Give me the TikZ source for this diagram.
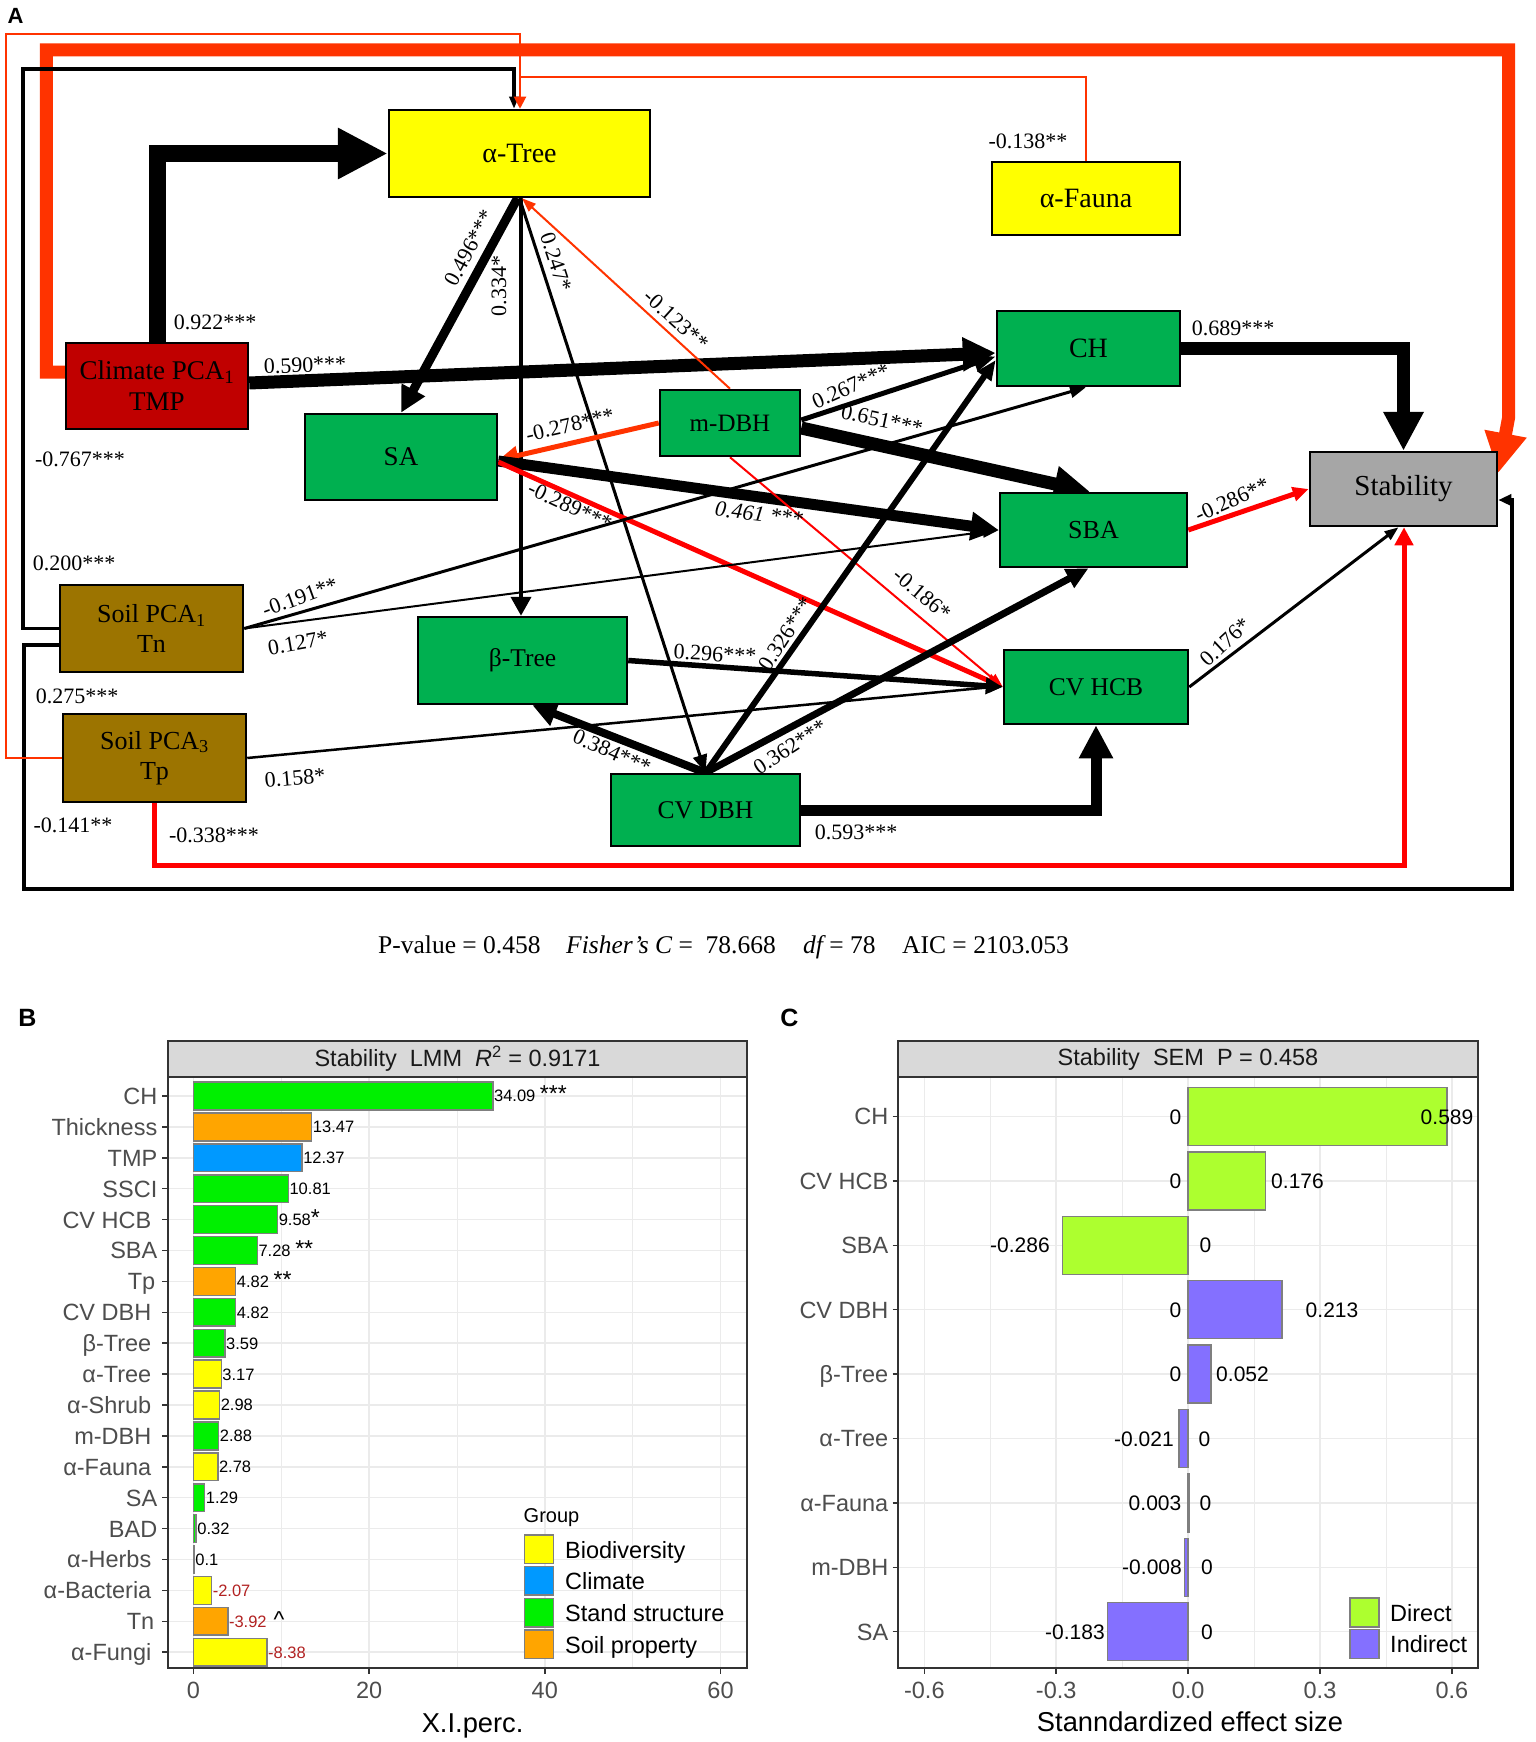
\documentclass[tikz,border=0pt]{standalone}
\usepackage{fontspec}
\setmainfont{Liberation Serif}
\newfontfamily\arialf{Liberation Sans}
\usetikzlibrary{arrows.meta}
\pgfdeclarelayer{background}
\pgfsetlayers{background,main}
\newcommand\setfs[2]{\fontsize{#1}{#2}\selectfont}
\newcommand\bigst[1]{{\setfs{23}{23}#1}}
\definecolor{semyellow}{HTML}{FFFF00}
\definecolor{semgreen}{HTML}{00B050}
\definecolor{semdred}{HTML}{C00000}
\definecolor{sembrown}{HTML}{9C7400}
\definecolor{semgray}{HTML}{A6A6A6}
\definecolor{semorange}{HTML}{FF3300}
\definecolor{semred}{HTML}{FF0000}
\definecolor{gB}{HTML}{00F000}
\definecolor{oB}{HTML}{FFA500}
\definecolor{bB}{HTML}{0099FF}
\definecolor{yB}{HTML}{FFFF00}
\definecolor{gC}{HTML}{ADFF2F}
\definecolor{pC}{HTML}{8470FF}
\definecolor{gridc}{HTML}{EBEBEB}
\definecolor{gtwenty}{HTML}{333333}
\definecolor{gthirty}{HTML}{4D4D4D}
\definecolor{gfifty}{HTML}{7F7F7F}
\definecolor{stripc}{HTML}{D9D9D9}
\definecolor{redlab}{HTML}{B22222}
\begin{document}
\begin{tikzpicture}[x=1pt,y=-1pt,
  semnode/.style={draw=black, line width=2.5pt, inner sep=0pt, align=center},
  elbl/.style={font=\setfs{22}{24}, inner sep=0pt},
  arr/.style 2 args={-{Triangle[length=#1,width=#2]}},
  tickl/.style={font=\arialf\setfs{23.5}{26}, text=gthirty, inner sep=0pt},
  vall/.style={font=\arialf\setfs{16.5}{18}, inner sep=0pt, anchor=base west},
  valc/.style={font=\arialf\setfs{21}{23}, inner sep=0pt, anchor=base},
  gmaj/.style={draw=gridc, line width=1.5pt},
  gmin/.style={draw=gridc, line width=0.8pt},
  axl/.style={draw=gtwenty, line width=1.5pt}]
\useasboundingbox (0,0) rectangle (1535,1742);

% ---------------- Panel A nodes ----------------
\node[font=\arialf\bfseries\setfs{22}{22}, inner sep=0pt] (labA) at (15.5,16) {A};

\node[semnode, fill=semyellow, minimum width=261pt, minimum height=87pt, font=\setfs{28}{30}] (atree) at (519.5,153.5) {α-Tree};
\node[semnode, fill=semyellow, minimum width=188pt, minimum height=73pt, font=\setfs{28}{30}] (afauna) at (1086,198.5) {α-Fauna};
\node[semnode, fill=semdred, minimum width=182pt, minimum height=86pt, font=\setfs{27}{31}] (climate) at (157,386) {Climate PCA\textsubscript{1}\\TMP};
\node[semnode, fill=semgreen, minimum width=183pt, minimum height=75pt, font=\setfs{28}{30}] (ch) at (1088.5,348.5) {CH};
\node[semnode, fill=semgreen, minimum width=140pt, minimum height=66pt, font=\setfs{25}{27}] (mdbh) at (730,423) {m-DBH};
\node[semnode, fill=semgreen, minimum width=192pt, minimum height=86pt, font=\setfs{27}{29}] (sa) at (401,457) {SA};
\node[semnode, fill=semgreen, minimum width=187pt, minimum height=74pt, font=\setfs{26}{28}] (sba) at (1093.5,530) {SBA};
\node[semnode, fill=semgray, minimum width=187pt, minimum height=74pt, font=\setfs{29}{31}] (stab) at (1403.5,489) {Stability};
\node[semnode, fill=sembrown, minimum width=183pt, minimum height=87pt, font=\setfs{26}{30}] (soil1) at (151.5,628.5) {Soil PCA\textsubscript{1}\\Tn};
\node[semnode, fill=semgreen, minimum width=209pt, minimum height=87pt, font=\setfs{25.5}{28}] (btree) at (522.5,660.5) {β-Tree};
\node[semnode, fill=semgreen, minimum width=184pt, minimum height=74pt, font=\setfs{25.5}{28}] (cvhcb) at (1096,687) {CV HCB};
\node[semnode, fill=sembrown, minimum width=183pt, minimum height=88pt, font=\setfs{26}{30}] (soil3) at (154.5,758) {Soil PCA\textsubscript{3}\\Tp};
\node[semnode, fill=semgreen, minimum width=189pt, minimum height=72pt, font=\setfs{25.5}{28}] (cvdbh) at (705.5,810) {CV DBH};

% ---------------- Panel A connectors ----------------
\begin{pgfonlayer}{background}
\fill[white] (0,0) rectangle (1535,1742);
% long loops
\draw[semorange, line width=13pt, arr={40pt}{40pt}] ([yshift=14pt]climate.west) -- ++(-18.5,0) |- (1508.5,50) -- (1508.5,418) -- ([yshift=16pt]stab.east);
\draw[black, line width=3.5pt, arr={12pt}{9pt}] (soil1.west) -| (23,69) -| ([xshift=-5.5pt]atree.north);
\draw[black, line width=4pt, arr={13pt}{11pt}] ([yshift=-16.5pt]soil1.west) -| (24,889) -| (1511.5,500) -- ([yshift=-11pt]stab.east);
\draw[semorange, line width=2pt, arr={12pt}{12pt}] (soil3.west) -| (6,34) -| ([xshift=0.5pt]atree.north);
\draw[semorange, line width=2pt] (afauna.north) |- (520,77);
\draw[semred, line width=5pt, arr={18pt}{18pt}] (soil3.south) |- (1404,865) -- ([xshift=0.5pt]stab.south);
% direct paths
\draw[black, line width=17pt, arr={50pt}{48pt}] (climate.north) |- (atree.west);
\draw[black, line width=13pt, arr={33pt}{32pt}] ([yshift=3pt]climate.east) -- ([yshift=-4.5pt]ch.west);
\draw[black, line width=9pt, arr={26pt}{25pt}] ([xshift=-2pt]atree.south) -- (sa.north);
\draw[black, line width=4pt, arr={19pt}{20pt}] ([xshift=1.5pt]atree.south) -- ([xshift=-1.5pt]btree.north);
\draw[black, line width=3pt, arr={18pt}{14pt}] (atree.south) -- (cvdbh.north);
\draw[semorange, line width=2pt, arr={14pt}{10pt}] (mdbh.north) -- ([xshift=2.5pt]atree.south);
\draw[semorange, line width=5pt, arr={20pt}{18pt}] (mdbh.west) -- ([yshift=-3pt]sa.east);
\draw[black, line width=5pt, arr={22pt}{16pt}] ([yshift=3pt]mdbh.east) -- ([yshift=-8pt]ch.west);
\draw[black, line width=13pt, arr={36pt}{34pt}] ([yshift=-5pt]mdbh.east) -- ([xshift=-3.5pt]sba.north);
\draw[black, line width=11pt, arr={28pt}{27pt}] ([yshift=-4pt]sa.east) -- (sba.west);
\draw[semred, line width=5pt, arr={16pt}{13pt}] ([yshift=-5pt]sa.east) -- (cvhcb.west);
\draw[semred, line width=2pt, arr={14pt}{10pt}] (mdbh.south) -- (cvhcb.west);
\draw[black, line width=3pt, arr={16pt}{12pt}] (soil1.east) -- ([xshift=-2.5pt]ch.south);
\draw[black, line width=2pt, arr={16pt}{11pt}] (soil1.east) -- (sba.west);
\draw[black, line width=5.5pt, arr={17pt}{16pt}] (btree.east) -- (cvhcb.west);
\draw[black, line width=2.5pt, arr={14pt}{10pt}] (soil3.east) -- ([yshift=1pt]cvhcb.west);
\draw[black, line width=8pt, arr={24pt}{24pt}] (cvdbh.north) -- ([xshift=10pt]btree.south);
\draw[black, line width=6pt, arr={20pt}{16pt}] (cvdbh.north) -- ([yshift=-11.5pt]ch.west);
\draw[black, line width=7pt, arr={22pt}{20pt}] (cvdbh.north) -- ([xshift=-5pt]sba.south);
\draw[black, line width=11pt, arr={33pt}{32pt}] (cvdbh.east) -| (cvhcb.south);
\draw[black, line width=13pt, arr={39pt}{38pt}] (ch.east) -| (stab.north);
\draw[semred, line width=5pt, arr={16pt}{14pt}] (sba.east) -- (stab.west);
\draw[black, line width=3pt, arr={14pt}{10pt}] (cvhcb.east) -- ([xshift=-5pt]stab.south);
\end{pgfonlayer}

% ---------------- Panel A labels ----------------
\node[elbl] (l1) at (215,322) {0.922***};
\node[elbl, rotate=2] (l2) at (305,365) {0.590***};
\node[elbl, rotate=62] (l3) at (469,248) {0.496***};
\node[elbl, rotate=90] (l4) at (499,286) {0.334*};
\node[elbl, rotate=-72] (l5) at (556,262) {0.247*};
\node[elbl, rotate=-42] (l6) at (676,320) {-0.123**};
\node[elbl, rotate=13] (l7) at (570,425) {-0.278***};
\node[elbl, rotate=24] (l8) at (851,386) {0.267***};
\node[elbl, rotate=-12] (l9) at (882,420) {0.651***};
\node[elbl, rotate=-7, font=\setfs{22}{24}\itshape] (l10) at (759,514) {0.461 ***};
\node[elbl, rotate=-25] (l11) at (570,506) {-0.289***};
\node[elbl, rotate=-40] (l12) at (922,594) {-0.186*};
\node[elbl, rotate=20] (l13) at (300,597) {-0.191**};
\node[elbl, rotate=10] (l14) at (298,643) {0.127*};
\node[elbl, rotate=-3] (l15) at (715,654) {0.296***};
\node[elbl, rotate=5] (l16) at (295,778) {0.158*};
\node[elbl, rotate=-24] (l17) at (612,752) {0.384***};
\node[elbl, rotate=57] (l18) at (786,634) {0.326***};
\node[elbl, rotate=33] (l19) at (790,747) {0.362***};
\node[elbl] (l20) at (856,832) {0.593***};
\node[elbl] (l21) at (1233,328) {0.689***};
\node[elbl, rotate=24] (l22) at (1232,500) {-0.286**};
\node[elbl, rotate=43] (l23) at (1225,642) {0.176*};
\node[elbl] (l24) at (1028,141) {-0.138**};
\node[elbl] (l25) at (74,563) {0.200***};
\node[elbl] (l26) at (80,459) {-0.767***};
\node[elbl] (l27) at (77,696) {0.275***};
\node[elbl] (l28) at (73,825) {-0.141**};
\node[elbl] (l29) at (214,835) {-0.338***};

% fit statistics
\node[anchor=base west, inner sep=0pt, font=\setfs{25.5}{27}] (pv1) at (378,953) {P-value = 0.458};
\node[anchor=base west, inner sep=0pt, font=\setfs{25.5}{27}] (pv2) at (566,953) {\itshape Fisher’s C\upshape{} =\ \ 78.668};
\node[anchor=base west, inner sep=0pt, font=\setfs{25.5}{27}] (pv3) at (803,953) {\itshape df\upshape{} = 78};
\node[anchor=base west, inner sep=0pt, font=\setfs{25.5}{27}] (pv4) at (902,953) {AIC = 2103.053};

% ---------------- Panel B ----------------
\node[font=\arialf\bfseries\setfs{25}{25}, inner sep=0pt] (labB) at (27.5,1018) {B};
\draw[gtwenty, line width=1.5pt, fill=stripc] (168,1041) rectangle (747,1077);
\node[font=\arialf\setfs{23.5}{26}, text=black!90, inner sep=0pt] (bstrip) at (457.5,1059) {Stability\ \ LMM\ \ \textit{R}\textsuperscript{2} = 0.9171};
\foreach \v in {10,30,50} \draw[gmin] ({193.4+8.785*\v},1077) -- ({193.4+8.785*\v},1668);
\foreach \v in {0,20,40,60} \draw[gmaj] ({193.4+8.785*\v},1077) -- ({193.4+8.785*\v},1668);
\foreach \i in {0,...,18} \draw[gmaj] (168,{1096+30.9*\i}) -- (747,{1096+30.9*\i});
\foreach \i/\lab/\lx/\val/\col/\txt in {
0/CH/157.5/34.09/gB/{34.09 \bigst{***}},
1/Thickness/157.5/13.47/oB/13.47,
2/TMP/157.5/12.37/bB/12.37,
3/SSCI/157.5/10.81/gB/10.81,
4/CV HCB/151.5/9.58/gB/{9.58\bigst{*}},
5/SBA/157.5/7.28/gB/{7.28 \bigst{**}},
6/Tp/155.5/4.82/oB/{4.82 \bigst{**}},
7/CV DBH/151.5/4.82/gB/4.82,
8/β-Tree/151.5/3.59/gB/3.59,
9/α-Tree/151.5/3.17/yB/3.17,
10/α-Shrub/151.5/2.98/yB/2.98,
11/m-DBH/151.5/2.88/gB/2.88,
12/α-Fauna/151.5/2.78/yB/2.78,
13/SA/157.5/1.29/gB/1.29,
14/BAD/157.5/0.32/gB/0.32,
15/α-Herbs/151.5/0.1/yB/0.1,
16/α-Bacteria/151.5/2.07/yB/{\textcolor{redlab}{-2.07}},
17/Tn/154.5/3.92/oB/{\textcolor{redlab}{-3.92}\hspace{7pt}\bigst{\textasciicircum}},
18/α-Fungi/151.5/8.38/yB/{\textcolor{redlab}{-8.38}}}{
  \filldraw[fill=\col, draw=gfifty, line width=1.5pt] (193.4,{1096+30.9*\i-13.9}) rectangle ({193.4+8.785*\val},{1096+30.9*\i+13.9});
  \node[vall] (bv\i) at ({193.4+8.785*\val+1},{1096+30.9*\i+5.9}) {\txt};
  \node[tickl, anchor=base east] (by\i) at (\lx,{1096+30.9*\i+8.4}) {\lab};
  \draw[axl] (162,{1096+30.9*\i}) -- (168,{1096+30.9*\i});
}
\draw[axl] (168,1077) rectangle (747,1668);
\foreach \v in {0,20,40,60}{
  \draw[axl] ({193.4+8.785*\v},1668) -- ({193.4+8.785*\v},1674);
  \node[tickl, anchor=base] (bx\v) at ({193.4+8.785*\v},1698) {\v};
}
\node[font=\arialf\setfs{27.3}{29}, inner sep=0pt, anchor=base] (bxt) at (472.6,1732) {X.I.perc.};
\node[font=\arialf\setfs{20}{22}, inner sep=0pt, anchor=base west] (bgrp) at (523.5,1522) {Group};
\foreach \k/\col/\t in {0/yB/Biodiversity,1/bB/Climate,2/gB/Stand structure,3/oB/Soil property}{
  \filldraw[fill=\col, draw=gfifty, line width=1.5pt] (524.5,{1535+31.7*\k}) rectangle (553.5,{1563.5+31.7*\k});
  \node[font=\arialf\setfs{23.5}{26}, inner sep=0pt, anchor=base west] (bk\k) at (565,{1558+31.7*\k}) {\t};
}

% ---------------- Panel C ----------------
\node[font=\arialf\bfseries\setfs{25}{25}, inner sep=0pt] (labC) at (789.5,1018) {C};
\draw[gtwenty, line width=1.5pt, fill=stripc] (898,1041) rectangle (1478,1077);
\node[font=\arialf\setfs{23.5}{26}, text=black!90, inner sep=0pt] (cstrip) at (1188,1059) {Stability\ \ SEM\ \ P = 0.458};
\foreach \v in {-0.45,-0.15,0.15,0.45} \draw[gmin] ({1188.1+439.6*\v},1077) -- ({1188.1+439.6*\v},1668);
\foreach \v in {-0.6,-0.3,0,0.3,0.6} \draw[gmaj] ({1188.1+439.6*\v},1077) -- ({1188.1+439.6*\v},1668);
\foreach \j in {0,...,8} \draw[gmaj] (898,{1116.5+64.4*\j}) -- (1478,{1116.5+64.4*\j});
\foreach \j/\lab/\v/\col/\la/\lax/\lb/\lbx in {
0/CH/0.589/gC/0/1175.5/0.589/1447,
1/CV HCB/0.176/gC/0/1175.5/0.176/1297.5,
2/SBA/-0.286/gC/-0.286/1020/0/1205.5,
3/CV DBH/0.213/pC/0/1175.5/0.213/1332,
4/β-Tree/0.052/pC/0/1175.5/0.052/1242.5,
5/α-Tree/-0.021/pC/-0.021/1144/0/1204.5,
6/α-Fauna/0.003/pC/0.003/1155/0/1205.5,
7/m-DBH/-0.008/pC/-0.008/1152/0/1207,
8/SA/-0.183/pC/-0.183/1075/0/1207}{
  \filldraw[fill=\col, draw=gfifty, line width=1.5pt] (1188.1,{1116.5+64.4*\j-29}) rectangle ({1188.1+439.6*\v},{1116.5+64.4*\j+29});
  \node[valc] (ca\j) at (\lax,{1116.5+64.4*\j+7.6}) {\la};
  \node[valc] (cb\j) at (\lbx,{1116.5+64.4*\j+7.6}) {\lb};
  \node[tickl, anchor=base east] (cy\j) at (888.5,{1116.5+64.4*\j+8.4}) {\lab};
  \draw[axl] (892.5,{1116.5+64.4*\j}) -- (898,{1116.5+64.4*\j});
}
\draw[axl] (898,1077) rectangle (1478,1668);
\foreach \v/\t [count=\n] in {-0.6/-0.6,-0.3/-0.3,0/0.0,0.3/0.3,0.6/0.6}{
  \draw[axl] ({1188.1+439.6*\v},1668) -- ({1188.1+439.6*\v},1674);
  \node[tickl, anchor=base] (cx\n) at ({1188.1+439.6*\v},1698) {\t};
}
\node[font=\arialf\setfs{27.3}{29}, inner sep=0pt, anchor=base] (cxt) at (1190,1731) {Stanndardized effect size};
\foreach \k/\col/\t in {0/gC/Direct,1/pC/Indirect}{
  \filldraw[fill=\col, draw=gfifty, line width=1.5pt] (1350,{1598+31.7*\k}) rectangle (1379,{1627+31.7*\k});
  \node[font=\arialf\setfs{23.5}{26}, inner sep=0pt, anchor=base west] (ck\k) at (1390,{1621+31.7*\k}) {\t};
}
\end{tikzpicture}
\end{document}
